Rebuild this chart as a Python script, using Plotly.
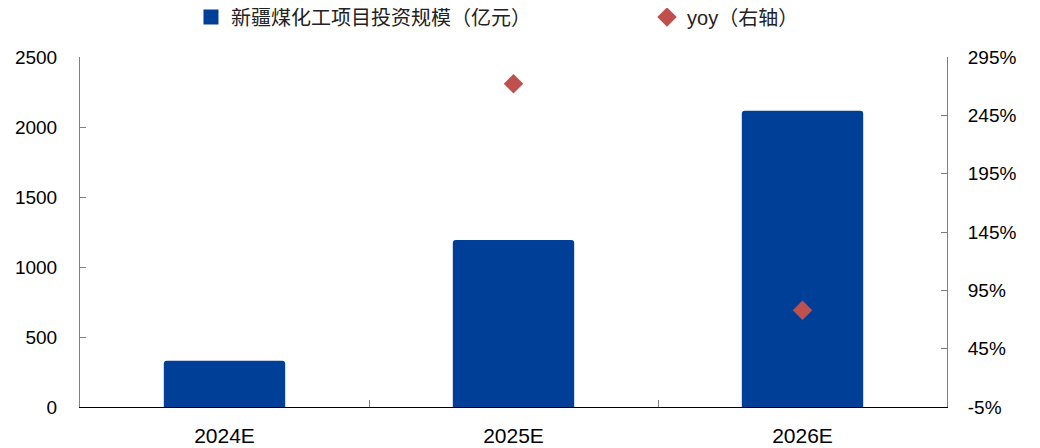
import plotly.graph_objects as go

categories = ["2024E", "2025E", "2026E"]
investment = [331, 1193, 2116]
yoy = [None, 272, 78]
left_ticks = [0, 500, 1000, 1500, 2000, 2500]
right_ticks = [-5, 45, 95, 145, 195, 245, 295]

bar_name = "新疆煤化工项目投资规模（亿元）"
yoy_name = "yoy（右轴）"
bar_color = "#003F97"
dot_color = "#C0504D"
font_family = "Liberation Sans, Noto Sans CJK SC, sans-serif"

fig = go.Figure()
fig.add_trace(go.Bar(
    x=categories, y=investment, name=bar_name,
    marker=dict(color=bar_color, cornerradius=3, line=dict(width=0)),
    hoverinfo="skip", showlegend=False,
))
# legend-only entry with a larger square swatch
fig.add_trace(go.Scatter(
    x=[None], y=[None], name=bar_name, mode="markers",
    marker=dict(symbol="square", size=15, color=bar_color),
    hoverinfo="skip", legend="legend",
))
fig.add_trace(go.Scatter(
    x=categories, y=yoy, name=yoy_name, yaxis="y2", mode="markers",
    marker=dict(symbol="diamond", size=15, color=dot_color),
    hoverinfo="skip", legend="legend2",
))

legend_common = dict(
    orientation="h", xanchor="left", y=1.114, yanchor="middle",
    font=dict(size=20, color="#222222"), itemclick=False, bgcolor="rgba(0,0,0,0)",
)

# page body has an 8px default margin, so the figure is 8px smaller
fig.update_layout(
    width=1032, height=440,
    margin=dict(l=72, r=93, t=49, b=41, autoexpand=False),
    paper_bgcolor="white", plot_bgcolor="white",
    font=dict(family=font_family, size=19, color="#000000"),
    bargap=0.58,
    showlegend=True,
    legend=dict(x=0.128, **legend_common),
    legend2=dict(x=0.654, **legend_common),
    xaxis=dict(
        type="category", showline=True, linecolor="#000000", linewidth=1,
        ticks="inside", tickson="boundaries", ticklen=7, tickcolor="#808080",
        showgrid=False, zeroline=False, tickfont=dict(size=21),
        ticklabelstandoff=10,
    ),
    yaxis=dict(
        range=[0, 2500], tickvals=left_ticks, showline=True, linecolor="#808080",
        linewidth=1, ticks="inside", ticklen=6, tickcolor="#808080",
        showgrid=False, zeroline=False, tickfont=dict(size=19),
        ticklabelstandoff=18,
    ),
    yaxis2=dict(
        range=[-5, 295], tickvals=right_ticks, ticktext=[f"{v}%" for v in right_ticks],
        overlaying="y", side="right", showline=True, linecolor="#808080",
        linewidth=1, ticks="inside", ticklen=6, tickcolor="#808080",
        showgrid=False, zeroline=False, tickfont=dict(size=19),
        ticklabelstandoff=16,
    ),
)

fig.write_html("out.html")
